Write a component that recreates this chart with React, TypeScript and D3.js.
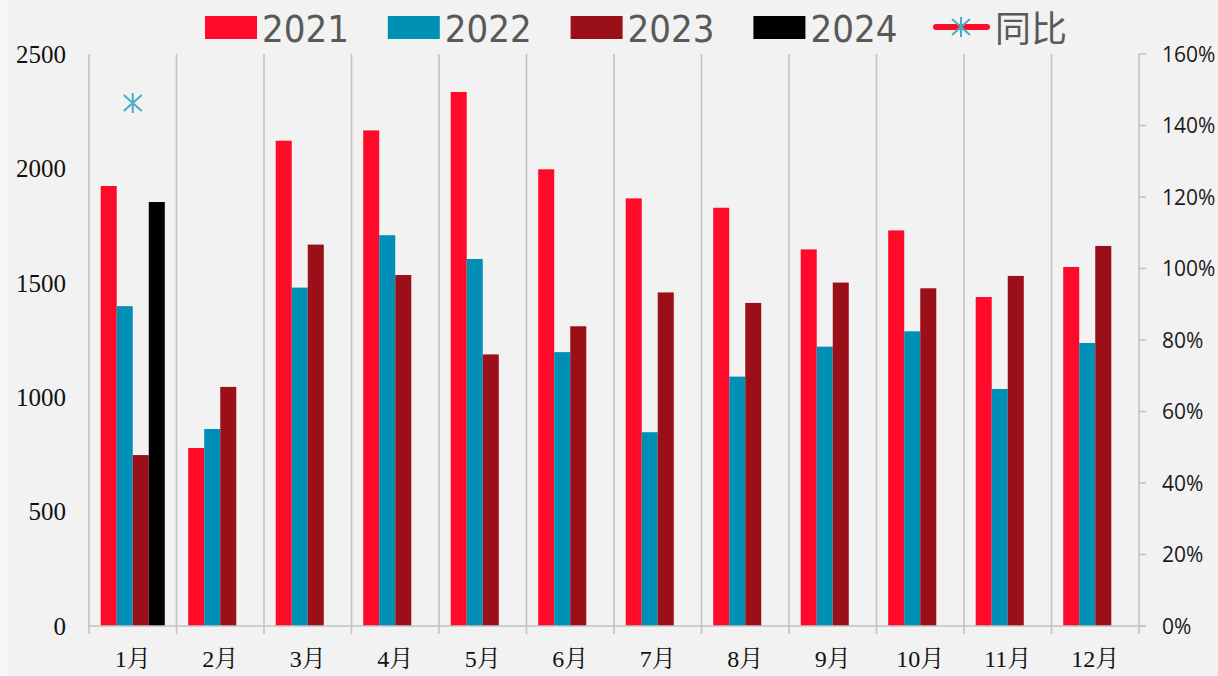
import React from "react";
import * as d3 from "d3";

// chart values
const months = ["1月", "2月", "3月", "4月", "5月", "6月", "7月", "8月", "9月", "10月", "11月", "12月"];
const seriesNames = ["2021", "2022", "2023", "2024"];
const v2021 = [1923, 778, 2121, 2166, 2334, 1996, 1869, 1828, 1646, 1729, 1438, 1569];
const v2022 = [1398, 861, 1479, 1708, 1604, 1197, 847, 1090, 1221, 1288, 1036, 1237];
const v2023 = [747, 1045, 1667, 1534, 1187, 1310, 1458, 1412, 1501, 1476, 1530, 1661];
const v2024 = [1853, null, null, null, null, null, null, null, null, null, null, null];
const yoy = [1.463, null, null, null, null, null, null, null, null, null, null, null];
const leftTicks = [0, 500, 1000, 1500, 2000, 2500];
const rightTicks = [0, 0.2, 0.4, 0.6, 0.8, 1.0, 1.2, 1.4, 1.6];

const colors = ["#ff0a28", "#008fb5", "#9b1018", "#000000"];
const starColor = "#4bacc6";
const gridColor = "#c2c2c2";

const W = 1218;
const H = 676;
const left = 89;
const right = 1139;
const top = 54;
const bottom = 626;

function Star({ cx, cy, r }: { cx: number; cy: number; r: number }) {
  const d = `M${cx},${cy - r}L${cx},${cy + r}M${cx - r * 0.9},${cy - r * 0.8}L${cx + r * 0.9},${cy + r * 0.8}M${cx - r * 0.9},${cy + r * 0.8}L${cx + r * 0.9},${cy - r * 0.8}`;
  return <path d={d} stroke={starColor} strokeWidth={2} fill="none" />;
}

export default function App() {
  const series = [v2021, v2022, v2023, v2024];

  const x = d3.scaleBand<string>().domain(months).range([left, right]).padding(0);
  const bw = x.bandwidth();
  const inner = d3
    .scaleBand<string>()
    .domain(seriesNames)
    .range([11.7, bw - 11.7])
    .padding(0);
  const y = d3.scaleLinear().domain([0, 2500]).range([bottom, top]);
  const y2 = d3.scaleLinear().domain([0, 1.6]).range([bottom, top]);
  const pct = d3.format(".0%");

  const legendX = (i: number) => 205 + i * 182.8;

  return (
    <div style={{ position: "fixed", left: 0, top: 0, width: W, height: H }}>
      <svg width={W} height={H} style={{ display: "block" }}>
        <rect x={0} y={0} width={W} height={H} fill="#f2f2f2" />
        <rect x={0} y={0} width={9} height={H} fill="#f6f6f6" />

        {/* vertical grid lines at category boundaries */}
        {months.map((m) => (
          <line
            key={"g" + m}
            x1={x(m)!}
            x2={x(m)!}
            y1={top}
            y2={bottom + 8}
            stroke={gridColor}
            strokeWidth={1.6}
          />
        ))}
        <line x1={right} x2={right} y1={top} y2={bottom + 8} stroke={gridColor} strokeWidth={1.6} />

        {/* bars */}
        {series.map((vals, s) =>
          vals.map((v, i) =>
            v == null ? null : (
              <rect
                key={`b${s}-${i}`}
                x={x(months[i])! + inner(seriesNames[s])!}
                y={y(v)}
                width={inner.bandwidth()}
                height={bottom - y(v)}
                fill={colors[s]}
              />
            )
          )
        )}

        {/* x axis line */}
        <line x1={left} x2={right + 7} y1={bottom} y2={bottom} stroke={gridColor} strokeWidth={1.6} />

        {/* right axis ticks */}
        {rightTicks.map((t) => (
          <line key={"rt" + t} x1={right} x2={right + 7} y1={y2(t)} y2={y2(t)} stroke={gridColor} strokeWidth={1.6} />
        ))}

        {/* yoy markers */}
        {yoy.map((v, i) =>
          v == null ? null : <Star key={"s" + i} cx={x(months[i])! + bw / 2} cy={y2(v)} r={10} />
        )}

        {/* left axis labels */}
        {leftTicks.map((t) => (
          <text
            key={"lt" + t}
            x={66}
            y={y(t)}
            dy="0.35em"
            textAnchor="end"
            fontFamily="'Liberation Serif', 'Times New Roman', serif"
            fontSize={25}
            fill="#111"
          >
            {t}
          </text>
        ))}

        {/* right axis labels */}
        {rightTicks.map((t) => (
          <text
            key={"rl" + t}
            x={1162}
            y={y2(t)}
            dy="0.36em"
            fontFamily="'Open Sans', 'Noto Sans', sans-serif"
            fontSize={21}
            fill="#1a1a1a"
          >
            {pct(t)}
          </text>
        ))}

        {/* x axis labels */}
        {months.map((m) => (
          <text
            key={"xl" + m}
            x={x(m)! + bw / 2}
            y={667}
            textAnchor="middle"
            fontFamily="'Liberation Serif', 'Noto Serif CJK SC', 'Noto Sans CJK SC', serif"
            fontSize={24}
            fill="#111"
          >
            {m}
          </text>
        ))}

        {/* legend */}
        {seriesNames.map((n, i) => (
          <g key={"lg" + n}>
            <rect x={legendX(i)} y={16} width={52} height={23} fill={colors[i]} />
            <text
              x={legendX(i) + 57}
              y={42}
              fontFamily="'DejaVu Sans Condensed', 'Open Sans', sans-serif"
              fontStretch="condensed"
              fontSize={38}
              fill="#595959"
            >
              {n}
            </text>
          </g>
        ))}
        <g>
          <line x1={936} x2={987} y1={27} y2={27} stroke={colors[0]} strokeWidth={6} strokeLinecap="round" />
          <Star cx={961} cy={27} r={10} />
          <text
            x={995}
            y={42}
            fontFamily="'Noto Sans CJK SC', sans-serif"
            fontSize={36}
            fill="#595959"
          >
            同比
          </text>
        </g>
      </svg>
    </div>
  );
}
